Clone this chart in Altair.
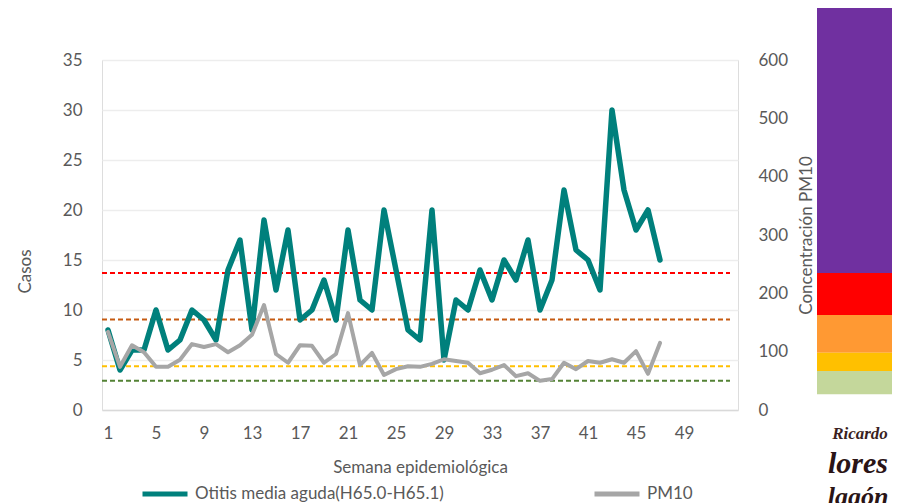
import altair as alt
import pandas as pd

# ---------------- data ----------------
weeks = list(range(1, 48))
otitis = [8, 4, 6, 6, 10, 6, 7, 10, 9, 7, 14, 17, 8, 19, 12, 18, 9, 10, 13, 9,
          18, 11, 10, 20, 14, 8, 7, 20, 5, 11, 10, 14, 11, 15, 13, 17, 10, 13,
          22, 16, 15, 12, 30, 22, 18, 20, 15]
pm10 = [134, 74, 111, 99, 74, 74, 86, 113, 108, 113, 99, 111, 129, 180, 96, 81,
        111, 110, 81, 96, 166, 77, 98, 60, 70, 75, 74, 79, 87, 84, 81, 63, 69,
        77, 58, 63, 50, 53, 81, 70, 84, 81, 87, 81, 101, 62, 115]

limit_values = [235, 155, 75, 50]
limit_colors = ["#FF0000", "#C55A11", "#FFC000", "#548235"]

band_low = [235, 163, 98, 67, 27]
band_high = [689, 235, 163, 98, 67]
band_colors = ["#7030A0", "#FF0000", "#FF9933", "#FFC000", "#C4D79B"]

x_ticks = list(range(1, 50, 4))
left_ticks = list(range(0, 36, 5))
right_ticks = list(range(0, 601, 100))

series_names = ["Otitis media aguda(H65.0-H65.1)", "PM10"]
series_colors = ["#00807C", "#A6A6A6"]

logo_lines = ["Ricardo", "lores", "lagón"]

FONT = "Lato"
GRAY_TXT = "#595959"

df = pd.DataFrame({"week": weeks, "otitis": otitis, "pm10": pm10})
limits_df = pd.DataFrame({"v": limit_values, "c": limit_colors})
bands_df = pd.DataFrame({"lo": band_low, "hi": band_high, "c": band_colors})

x_enc = alt.X(
    "week:Q",
    scale=alt.Scale(domain=[0.5, 53.5], nice=False, zero=False),
    axis=alt.Axis(values=x_ticks, title="Semana epidemiológica", grid=False,
                  ticks=False, domainColor="#D9D9D9", domainWidth=1.5,
                  labelPadding=15, labelFontSize=17, titleFontSize=17,
                  labelColor=GRAY_TXT, titleColor=GRAY_TXT, titleFontWeight="normal",
                  titleY=57, titleBaseline="middle", labelFont=FONT, titleFont=FONT),
)

right_scale = alt.Scale(domain=[0, 600], nice=False, zero=True)

series_color = alt.Color(
    "serie:N",
    scale=alt.Scale(domain=series_names, range=series_colors),
    legend=alt.Legend(orient="none", legendX=38, legendY=409, direction="horizontal",
                      symbolType="stroke", symbolSize=2025, symbolStrokeWidth=5,
                      labelFontSize=17, labelColor=GRAY_TXT, labelFont=FONT,
                      columnPadding=140, labelOffset=5, title=None, padding=0,
                      labelLimit=400),
)

# bands (decorative scale to the right)
bands = alt.Chart(bands_df).mark_rect(clip=False).encode(
    x=alt.value(715), x2=alt.value(800),
    y=alt.Y("lo:Q", scale=right_scale, axis=None),
    y2="hi:Q",
    fill=alt.Fill("c:N", scale=None, legend=None),
)

# threshold dashed lines
rules = alt.Chart(limits_df).mark_rule(strokeDash=[5, 3], strokeWidth=2).encode(
    x=alt.value(0), x2=alt.value(628),
    y=alt.Y("v:Q", scale=right_scale, axis=None),
    stroke=alt.Stroke("c:N", scale=None, legend=None),
)

teal = alt.Chart(df).transform_calculate(
    serie=f'"{series_names[0]}"'
).mark_line(strokeWidth=5.5, strokeJoin="round", strokeCap="round").encode(
    x=x_enc,
    y=alt.Y("otitis:Q", scale=alt.Scale(domain=[0, 35], nice=False),
            axis=alt.Axis(orient="left", values=left_ticks, title="Casos", grid=True,
                          gridColor="#EDEDED", gridWidth=1.5, domain=False, ticks=False,
                          labelPadding=20, labelFontSize=17, titleFontSize=17,
                          labelColor=GRAY_TXT, titleColor=GRAY_TXT, titleFontWeight="normal",
                          titleX=-77, titleY=211, titleAngle=270, titleBaseline="middle",
                          titleAlign="center", labelFont=FONT, titleFont=FONT)),
    color=series_color,
)

gray = alt.Chart(df).transform_calculate(
    serie=f'"{series_names[1]}"'
).mark_line(strokeWidth=4, strokeJoin="round", strokeCap="round").encode(
    x=x_enc,
    y=alt.Y("pm10:Q", scale=right_scale,
            axis=alt.Axis(orient="right", values=right_ticks, title="Concentración PM10",
                          grid=False, domain=False, ticks=False, labelPadding=20,
                          labelFontSize=17, titleFontSize=17, labelColor=GRAY_TXT,
                          titleColor=GRAY_TXT, titleFontWeight="normal",
                          titleX=68, titleY=175, titleAngle=270, titleBaseline="middle",
                          titleAlign="center", labelFont=FONT, titleFont=FONT)),
    color=series_color,
)

logo_df = pd.DataFrame({"t": logo_lines})
logo1 = alt.Chart(logo_df.iloc[[0]]).mark_text(
    font="Liberation Serif", fontStyle="italic", fontWeight="bold", fontSize=17,
    color="#3B1F22", align="center", baseline="middle").encode(
    x=alt.value(758), y=alt.value(374), text="t:N")
logo2 = alt.Chart(logo_df.iloc[[1]]).mark_text(
    font="Liberation Serif", fontStyle="italic", fontWeight="bold", fontSize=30,
    color="#2A1416", align="center", baseline="middle").encode(
    x=alt.value(756), y=alt.value(404), text="t:N")
logo3 = alt.Chart(logo_df.iloc[[2]]).mark_text(
    font="Liberation Serif", fontStyle="italic", fontWeight="bold", fontSize=26,
    color="#2A1416", align="center", baseline="top").encode(
    x=alt.value(756), y=alt.value(424), text="t:N")

chart = alt.layer(bands, rules, teal, gray, logo1, logo2, logo3).resolve_scale(
    y="independent"
).properties(
    width=636, height=350,
    autosize=alt.AutoSizeParams(type="none"),
    padding={"left": 94, "top": 52, "right": 154, "bottom": 93},
).configure_view(stroke=None).configure(font=FONT)

chart.save("out.html", embed_options={"renderer": "svg", "actions": False})
